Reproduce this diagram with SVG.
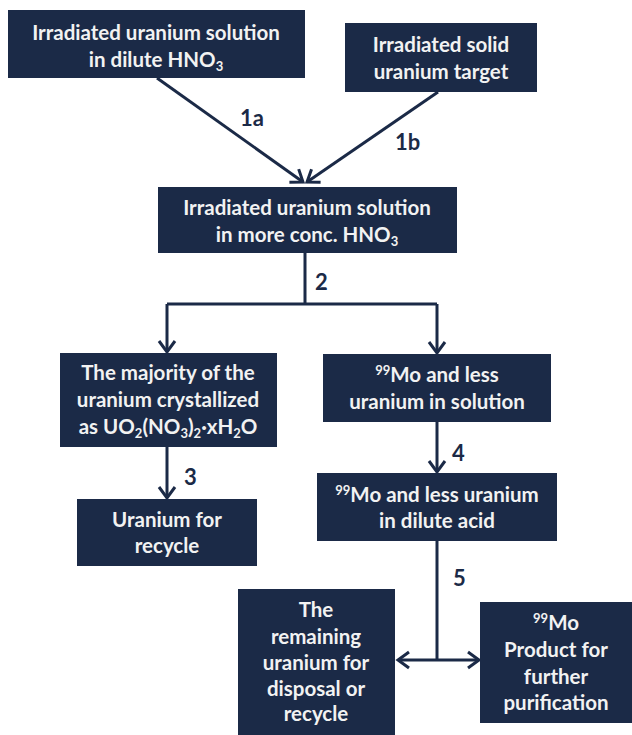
<svg xmlns="http://www.w3.org/2000/svg" width="632" height="735" viewBox="0 0 632 735">
<style>
.box{fill:#1b2a47;}
.t{font-family:Lato,"Liberation Sans",sans-serif;font-weight:bold;font-size:20.5px;fill:#f2f2f2;text-anchor:middle;}
.lbl{font-family:Lato,"Liberation Sans",sans-serif;font-weight:bold;font-size:22px;fill:#1b2a47;}
.c{stroke:#1b2a47;stroke-width:3;fill:none;}
.sub{font-size:13px;}
</style>
<defs>
<marker id="ah" markerUnits="userSpaceOnUse" markerWidth="20" markerHeight="20" refX="0" refY="0" viewBox="-14 -10 16 20" orient="auto">
<path d="M-11,-8 L0,0 L-11,8" fill="none" stroke="#1b2a47" stroke-width="3"/>
</marker>
</defs>
<rect width="632" height="735" fill="#ffffff"/>
<g id="connectors">
<line class="c" x1="157" y1="78" x2="303" y2="182" marker-end="url(#ah)"/>
<line class="c" x1="438" y1="92" x2="307" y2="182" marker-end="url(#ah)"/>
<path class="c" d="M305,253 V304 M167,304 H437"/>
<line class="c" x1="167" y1="304" x2="167" y2="352" marker-end="url(#ah)"/>
<line class="c" x1="437" y1="304" x2="437" y2="353" marker-end="url(#ah)"/>
<line class="c" x1="167" y1="447" x2="167" y2="498" marker-end="url(#ah)"/>
<line class="c" x1="437" y1="422" x2="437" y2="472" marker-end="url(#ah)"/>
<line class="c" x1="437" y1="541" x2="437" y2="660"/>
<line class="c" x1="437" y1="660" x2="398" y2="660" marker-end="url(#ah)"/>
<line class="c" x1="437" y1="660" x2="479" y2="660" marker-end="url(#ah)"/>
<text class="lbl" x="240" y="126">1a</text>
<text class="lbl" x="395" y="150">1b</text>
<text class="lbl" x="315" y="290">2</text>
<text class="lbl" x="184" y="485">3</text>
<text class="lbl" x="452" y="461">4</text>
<text class="lbl" x="453" y="586">5</text>
</g>
<g id="n1">
<rect class="box" x="8" y="10" width="297" height="68"/>
<text class="t" x="156" y="40">Irradiated uranium solution</text>
<text class="t" x="156" y="67">in dilute HNO<tspan class="sub" dy="4">3</tspan></text>
</g>
<g id="n2">
<rect class="box" x="345" y="23" width="192" height="69"/>
<text class="t" x="441" y="52">Irradiated solid</text>
<text class="t" x="441" y="79">uranium target</text>
</g>
<g id="n3">
<rect class="box" x="158" y="187" width="299" height="66"/>
<text class="t" x="307" y="215">Irradiated uranium solution</text>
<text class="t" x="307" y="242">in more conc. HNO<tspan class="sub" dy="4">3</tspan></text>
</g>
<g id="n4">
<rect class="box" x="60" y="353" width="217" height="94"/>
<text class="t" x="168" y="380">The majority of the</text>
<text class="t" x="168" y="407">uranium crystallized</text>
<text class="t" x="168" y="434">as UO<tspan class="sub" dy="4">2</tspan><tspan dy="-4">(NO</tspan><tspan class="sub" dy="4">3</tspan><tspan dy="-4">)</tspan><tspan class="sub" dy="4">2</tspan><tspan dy="-4">·xH</tspan><tspan class="sub" dy="4">2</tspan><tspan dy="-4">O</tspan></text>
</g>
<g id="n5">
<rect class="box" x="323" y="354" width="228" height="68"/>
<text class="t" x="437" y="382"><tspan class="sub" dy="-7">99</tspan><tspan dy="7">Mo and less</tspan></text>
<text class="t" x="437" y="409">uranium in solution</text>
</g>
<g id="n6">
<rect class="box" x="77" y="499" width="180" height="67"/>
<text class="t" x="167" y="527">Uranium for</text>
<text class="t" x="167" y="553">recycle</text>
</g>
<g id="n7">
<rect class="box" x="317" y="473" width="240" height="68"/>
<text class="t" x="437" y="502"><tspan class="sub" dy="-7">99</tspan><tspan dy="7">Mo and less uranium</tspan></text>
<text class="t" x="437" y="528">in dilute acid</text>
</g>
<g id="n8">
<rect class="box" x="238" y="589" width="157" height="150"/>
<text class="t" x="316" y="617">The</text>
<text class="t" x="316" y="644">remaining</text>
<text class="t" x="316" y="670">uranium for</text>
<text class="t" x="316" y="696">disposal or</text>
<text class="t" x="316" y="721">recycle</text>
</g>
<g id="n9">
<rect class="box" x="480" y="602" width="160" height="121"/>
<text class="t" x="556" y="630"><tspan class="sub" dy="-7">99</tspan><tspan dy="7">Mo</tspan></text>
<text class="t" x="556" y="657">Product for</text>
<text class="t" x="556" y="684">further</text>
<text class="t" x="556" y="710">purification</text>
</g>
</svg>
